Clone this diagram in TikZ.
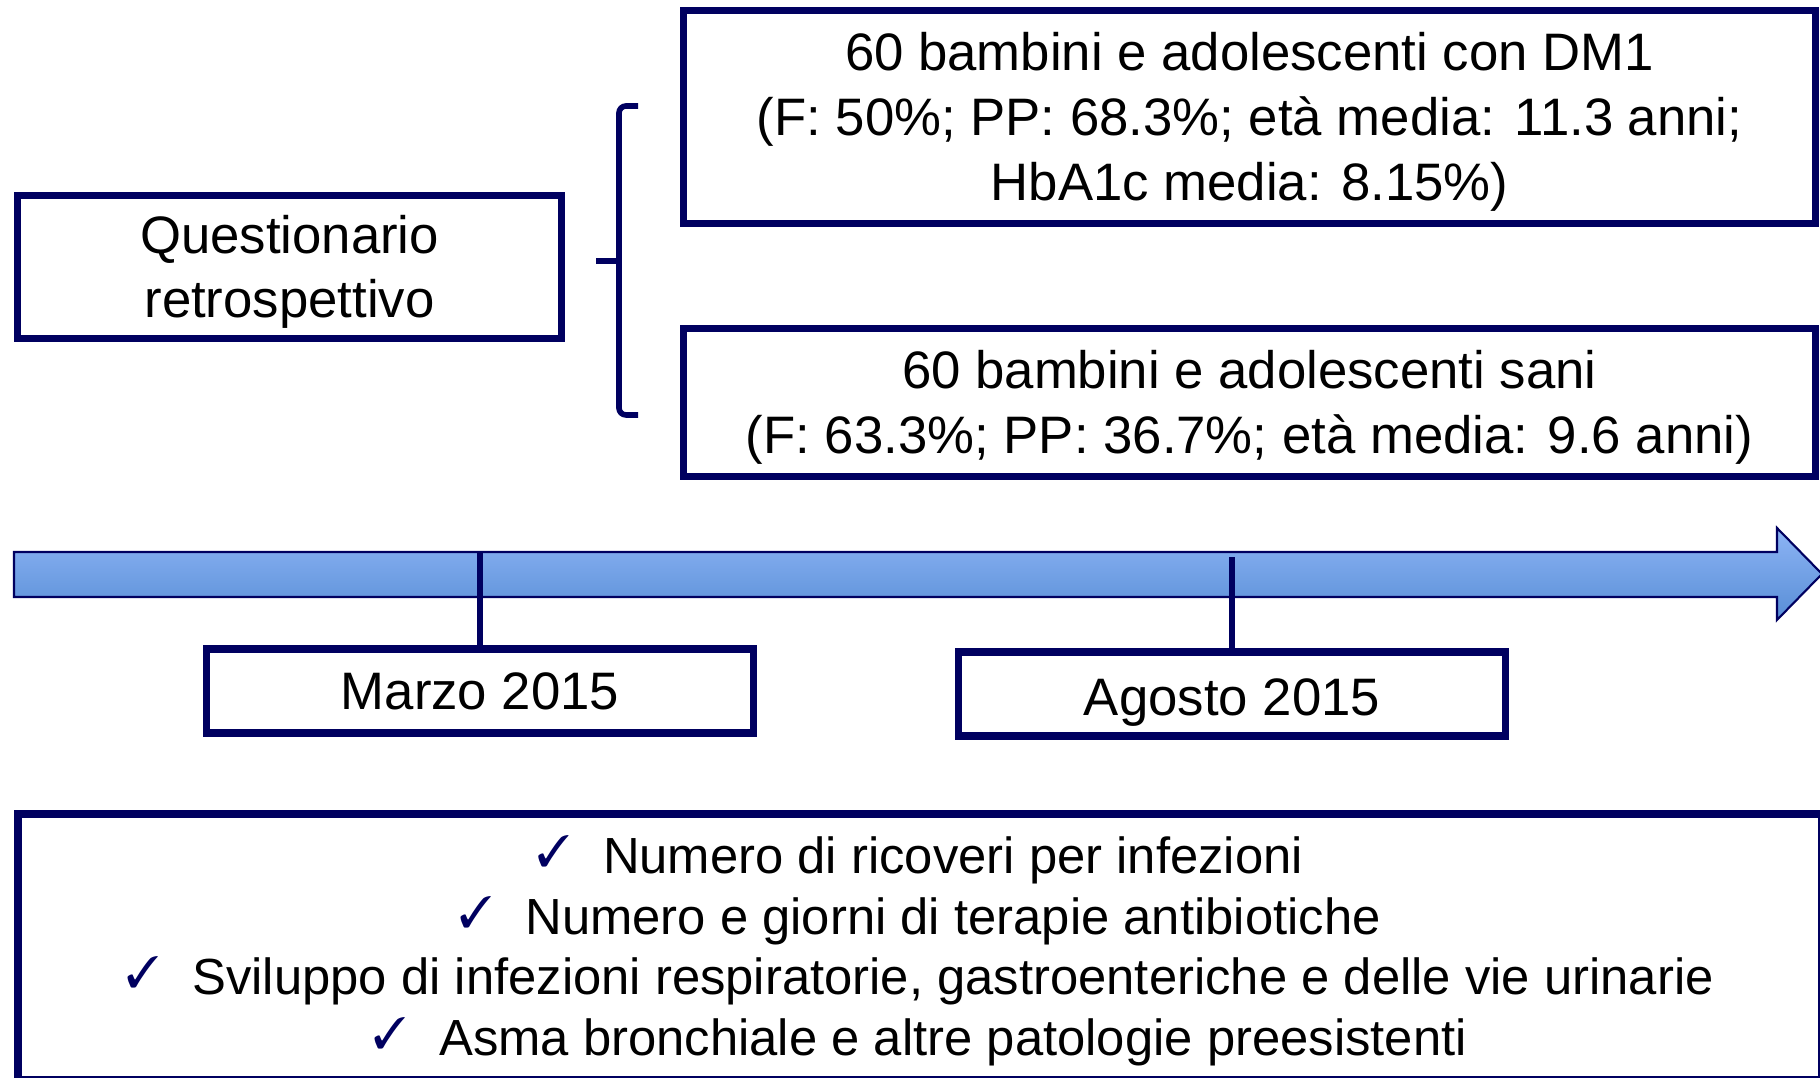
\documentclass[tikz,border=0pt]{standalone}
\usepackage{fontspec}
\setmainfont{Liberation Sans}
\usepackage{pifont}
\usetikzlibrary{positioning}
\definecolor{navy}{RGB}{0,0,96}
\definecolor{asselight}{RGB}{141,180,245}
\definecolor{assedark}{RGB}{88,142,214}
\newcommand{\ck}{\raisebox{2pt}{\color{navy}\fontsize{12.5}{12.5}\selectfont\ding{51}}\hspace{0.33cm}}
\newcommand{\su}[1][13.6pt]{\rule{0pt}{#1}}

\begin{document}
\begin{tikzpicture}[
    box/.style={draw=navy,line width=2.1pt,inner sep=0pt,align=center,
      font=\fontsize{15}{18.4}\selectfont},
    datebox/.style={box,minimum width=5.47cm,minimum height=0.84cm},
    tick/.style={navy,line width=1.8pt},
    brace/.style={navy,line width=1.6pt,rounded corners=2pt}]
  \useasboundingbox (0,0) rectangle (18.2,10.78);

  \node[box,minimum width=5.44cm,minimum height=1.43cm] (q) at (2.895,8.11)
    {\su Questionario\\retrospettivo};
  \node[box,minimum width=11.32cm,minimum height=2.13cm] (dm) at (12.495,9.61)
    {\su 60 bambini e adolescenti con DM1\\(F: 50\%; PP: 68.3\%; età media: 11.3 anni;\\HbA1c media: 8.15\%)};
  \node[box,minimum width=11.32cm,minimum height=1.48cm] (sani) at (12.495,6.755)
    {\su 60 bambini e adolescenti sani\\(F: 63.3\%; PP: 36.7\%; età media: 9.6 anni)};

  % graffa
  \coordinate (g) at ([xshift=0.31cm,yshift=0.06cm]q.east);
  \draw[brace] (6.38,9.72) -- (6.19,9.72) -- (6.19,6.63) -- (6.38,6.63);
  \draw[brace] (g) -- (6.19,8.17);

  % asse temporale
  \path[draw=navy,line width=0.6pt,top color=asselight,bottom color=assedark]
    (0.14,5.26) -- (17.77,5.26) -- (17.77,5.50) -- (18.22,5.04)
    -- (17.77,4.58) -- (17.77,4.81) -- (0.14,4.81) -- cycle;
  \coordinate (asse) at (0.14,5.26);

  \node[datebox] (marzo) at (4.80,3.87) {Marzo 2015};
  \node[datebox] (agosto) at (12.32,3.84) {\su[15.4pt]Agosto 2015};
  \draw[tick] (marzo.north) -- (marzo.north |- asse);
  \draw[tick] (agosto.north) -- ([yshift=-0.05cm]agosto.north |- asse);

  \node[box,minimum width=18.04cm,minimum height=2.66cm,
    font=\fontsize{14.45}{17.3}\selectfont] (esiti) at (9.20,1.31)
    {\su[13pt]\ck Numero di ricoveri per infezioni\\
     \ck Numero e giorni di terapie antibiotiche\\
     \ck Sviluppo di infezioni respiratorie, gastroenteriche e delle vie urinarie\\
     \ck Asma bronchiale e altre patologie preesistenti};
\end{tikzpicture}
\end{document}
